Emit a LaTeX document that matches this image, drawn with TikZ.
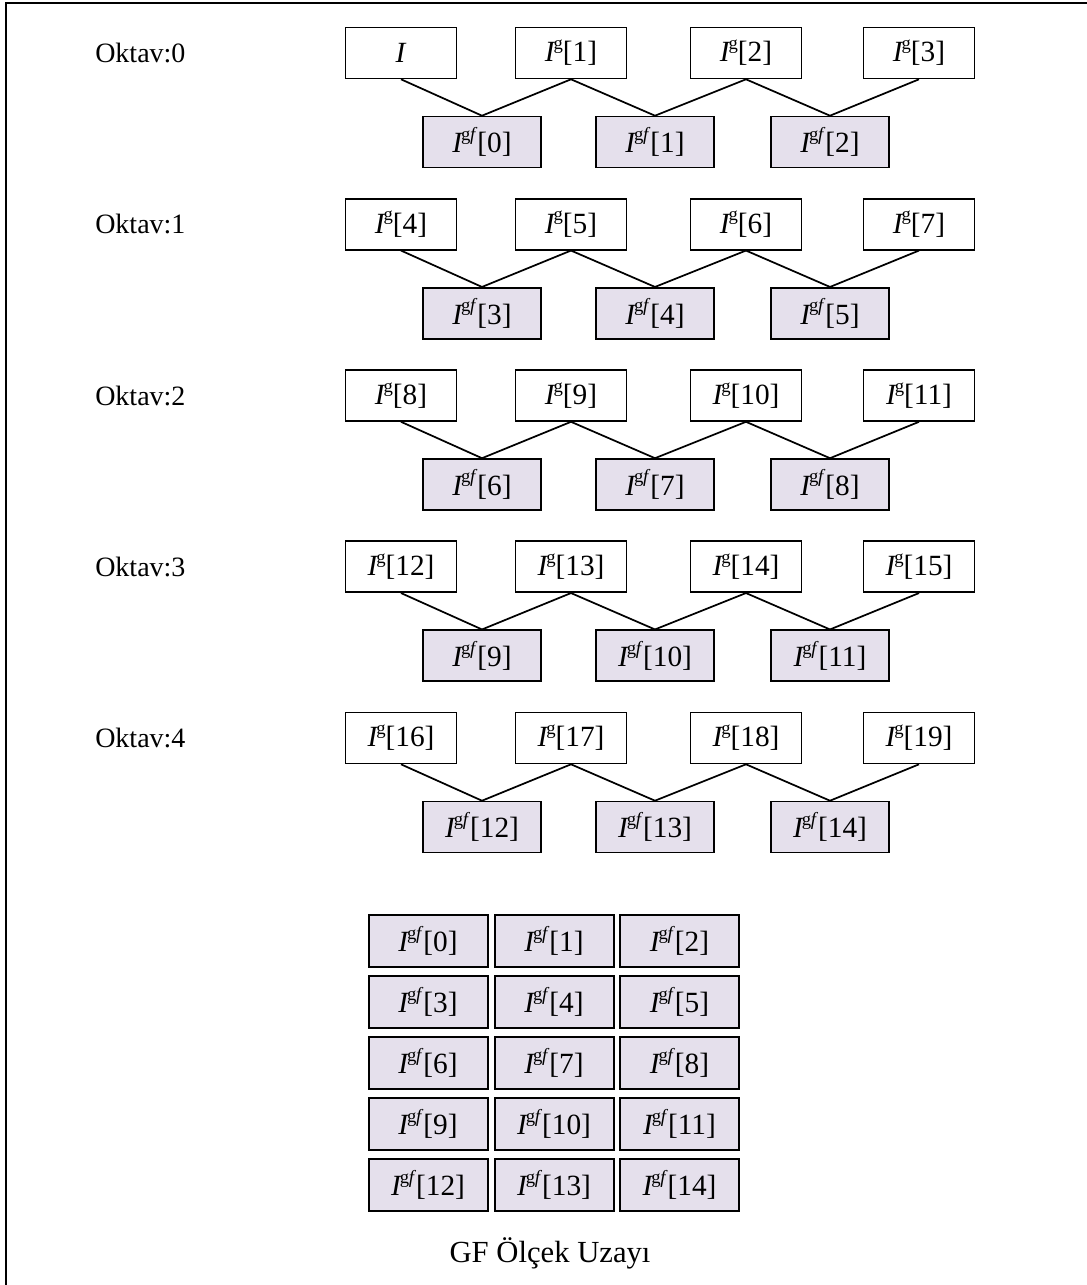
\documentclass[tikz,border=0pt]{standalone}
\usepackage{fontspec}
\setmainfont{Liberation Serif}
\usetikzlibrary{shadows}
\definecolor{gffill}{RGB}{229,224,236}
% I^g[k] and I^{gf}[k] labels
\newcommand\supg{\raisebox{0.42em}{\fontsize{14}{14}\selectfont g}}
\newcommand\supgf{\raisebox{0.42em}{\fontsize{14}{14}\selectfont g\kern-0.3pt\textit{f}}}
\newcommand\Ig[1]{\textit{I}\kern-1.6pt\supg[#1]}
\newcommand\Igf[1]{\textit{I}\kern-1.6pt\supgf[#1]}
\begin{document}
\begin{tikzpicture}[x=0.75pt,y=-0.75pt,
  boxfont/.style={font=\fontsize{22}{26}\selectfont},
  gbox/.style={draw,line width=1.2pt,minimum width=83.25pt,minimum height=38.25pt,inner sep=0pt,boxfont},
  gfbox/.style={gbox,fill=gffill,minimum width=88.5pt},
  gridbox/.style={draw,line width=1.5pt,fill=gffill,minimum width=89.25pt,minimum height=39pt,inner sep=0pt,boxfont,
    drop shadow={shadow xshift=0.7pt,shadow yshift=-0.9pt,fill=black!75,opacity=1}},
  octlabel/.style={anchor=west,inner sep=0pt,font=\fontsize{21}{25}\selectfont},
  conn/.style={line width=1.3pt},
  caption/.style={inner sep=0pt,font=\fontsize{23}{27}\selectfont}]
\useasboundingbox (0,0) rectangle (1086,1285);
\fill[white] (0,0) rectangle (1086,1285);
% frame
\draw[line width=1.5pt] (5.5,1290) -- (5.5,2.5) -- (1090,2.5);
% octaves
\foreach \r in {0,...,4}{
  \pgfmathsetmacro\ty{53+171.25*\r}
  \pgfmathsetmacro\fy{\ty+89}
  \node[octlabel] (o\r) at (95,\ty) {Oktav:\r};
  \foreach \c/\x in {0/401,1/571,2/746,3/919}{
    \pgfmathtruncatemacro\k{4*\r+\c}
    \ifnum\k=0
      \node[gbox] (t\r-\c) at (\x,\ty) {\textit{I}};
    \else
      \node[gbox] (t\r-\c) at (\x,\ty) {\Ig{\k}};
    \fi
  }
  \foreach \c/\x in {0/482,1/655,2/830}{
    \pgfmathtruncatemacro\k{3*\r+\c}
    \node[gfbox] (f\r-\c) at (\x,\fy) {\Igf{\k}};
  }
  \foreach \c in {0,1,2}{
    \pgfmathtruncatemacro\n{\c+1}
    \draw[conn] (t\r-\c.south) -- (f\r-\c.north) -- (t\r-\n.south);
  }
}
% GF scale space
\foreach \r in {0,...,4}{
  \foreach \c/\x in {0/428,1/554,2/679.5}{
    \pgfmathtruncatemacro\k{3*\r+\c}
    \node[gridbox] (g\k) at (\x,{941+61*\r}) {\Igf{\k}};
  }
}
\node[caption] (cap) at (550,1253) {GF Ölçek Uzayı};
\end{tikzpicture}
\end{document}
